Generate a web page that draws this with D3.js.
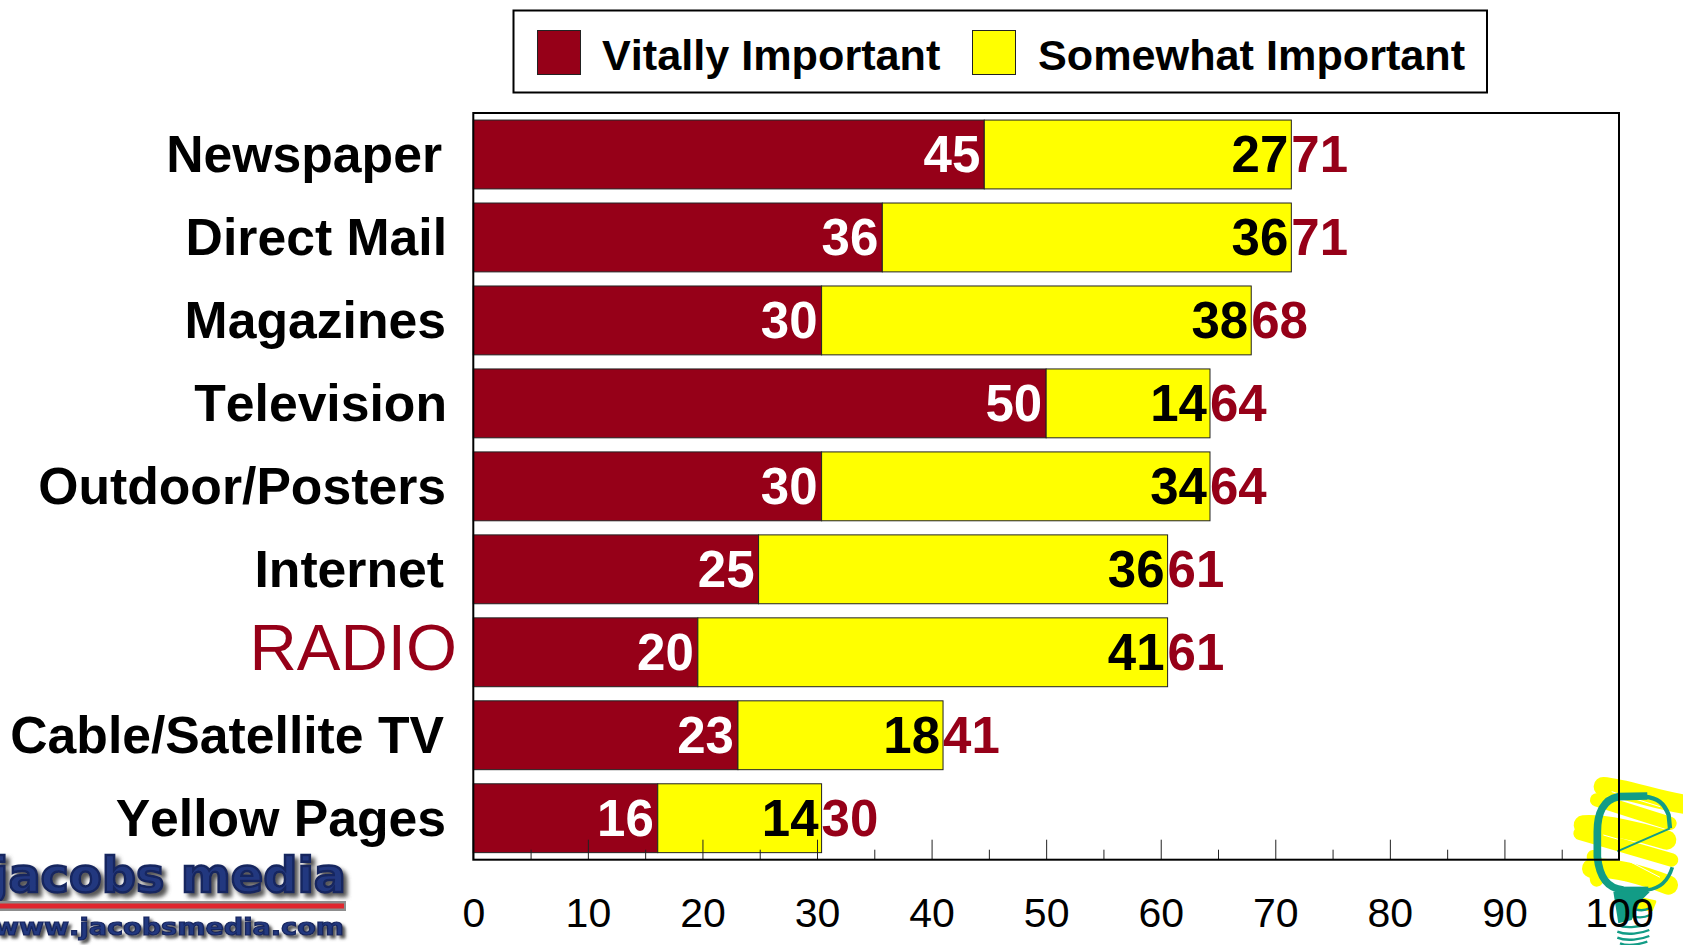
<!DOCTYPE html>
<html>
<head>
<meta charset="utf-8">
<script src="https://cdn.jsdelivr.net/npm/d3@7"></script>
<style>
html,body{margin:0;padding:0;background:#fff;overflow:hidden}
svg{display:block}
text{font-family:"Liberation Sans",Arial,sans-serif;font-kerning:none}
</style>
</head>
<body>
<svg id="c" width="1683" height="945"></svg>
<script>
const categories = ["Newspaper","Direct Mail","Magazines","Television","Outdoor/Posters","Internet","RADIO","Cable/Satellite TV","Yellow Pages"];
const vitalValues = [44.6,35.7,30.4,50,30.4,24.9,19.6,23.1,16.1];
const somewhatValues = [26.8,35.7,37.5,14.3,33.9,35.7,41,17.9,14.3];
const vitalLabels = [45,36,30,50,30,25,20,23,16];
const somewhatLabels = [27,36,38,14,34,36,41,18,14];
const totalLabels = [71,71,68,64,64,61,61,41,30];
const labelNudges = [-5,0,-1,0,-1,-3,10,-3,-1];
const majorTicks = [0,10,20,30,40,50,60,70,80,90,100];
const minorTicks = [5,15,25,35,45,55,65,75,85,95];
const seriesNames = ["Vitally Important","Somewhat Important"];
const MAROON = "#960018", YELLOW = "#ffff00", TEAL = "#129c86";

const svg = d3.select("#c");
const defs = svg.append("defs");
const logoFilter = (id,dx,blur)=>{
  const f = defs.append("filter").attr("id",id).attr("x","-5%").attr("y","-20%").attr("width","110%").attr("height","150%");
  f.append("feGaussianBlur").attr("in","SourceGraphic").attr("stdDeviation",0.7).attr("result","s");
  f.append("feDropShadow").attr("in","s").attr("dx",dx).attr("dy",dx).attr("stdDeviation",blur).attr("flood-color","#555");
};
logoFilter("logoMain",4,2);
logoFilter("logoUrl",3,1.6);
defs.append("filter").attr("id","soft").append("feGaussianBlur").attr("stdDeviation",0.7);

const plotL = 473.3, plotR = 1619, plotT = 113, plotB = 859.7;
const x = d3.scaleLinear().domain([0,100]).range([plotL,plotR]);
const y = d3.scaleBand().domain(categories).range([plotT,plotB]).paddingInner(0.17).paddingOuter(0.085);

// Light-bulb logo (decoration)
const bulb = svg.append("g").attr("transform","translate(1560,760) scale(0.3333)");
const yellowStrokes = [
  "M130,80 C200,85 300,125 390,135",
  "M70,195 C130,190 240,215 320,240",
  "M95,325 C170,320 260,350 325,375"
];
bulb.selectAll("path.y").data(yellowStrokes).join("path").attr("class","y").attr("d",d=>d)
  .attr("fill","none").attr("stroke",YELLOW).attr("stroke-width",58).attr("stroke-linecap","round");
bulb.append("path").attr("d","M110,120 L330,190 M60,220 L335,300 M100,290 L110,360").attr("fill","none").attr("stroke",YELLOW).attr("stroke-width",40).attr("stroke-linecap","round");
bulb.append("path").attr("d","M195,405 L285,425 L275,450 L200,445 Z").attr("fill",YELLOW).attr("stroke",YELLOW).attr("stroke-width",8).attr("stroke-linejoin","round");
bulb.append("path").attr("d","M155,95 L300,140 M130,225 L175,238 M200,300 L300,352 M190,365 L235,385")
  .attr("fill","none").attr("stroke","#fff").attr("stroke-width",3);
const outlineSegs = [
  ["M172,274 L330,205",6],
  ["M330,205 L326,165 C312,128 292,114 255,110",13],
  ["M262,108 L175,110 C130,118 112,160 112,215 L112,290 C118,350 140,385 190,390",23],
  ["M185,390 L265,390",20],
  ["M262,390 C300,386 324,365 337,322",11]
];
bulb.selectAll("path.o").data(outlineSegs).join("path").attr("class","o").attr("d",d=>d[0])
  .attr("fill","none").attr("stroke",TEAL).attr("stroke-width",d=>d[1]);
bulb.append("path").attr("d","M160,395 L270,395 L240,425 L215,480 L175,490 Z").attr("fill",TEAL);
bulb.append("path").attr("d","M205,440 C225,450 250,455 268,445 M195,460 C225,475 250,475 270,465 M172,495 C200,507 245,500 268,490 M172,515 C200,527 245,520 268,510 M172,533 C200,545 245,538 268,528 M180,550 C205,560 240,552 262,545")
  .attr("fill","none").attr("stroke",TEAL).attr("stroke-width",7);

// Jacobs Media logo (decoration)
const logo = svg.append("g");
logo.append("text").attr("x",-8).attr("y",892).attr("textLength",354).attr("lengthAdjust","spacingAndGlyphs")
  .style("font-family","'DejaVu Sans'").style("font-weight",700).style("font-size","48px")
  .attr("fill","#24387f").attr("stroke","#16265f").attr("stroke-width",2.5).attr("filter","url(#logoMain)").text("jacobs media");
logo.append("rect").attr("x",0).attr("y",901).attr("width",346).attr("height",10).attr("fill","#8d8d8d").attr("filter","url(#soft)");
logo.append("rect").attr("x",0).attr("y",903.5).attr("width",344).attr("height",5).attr("fill","#e0282e").attr("filter","url(#soft)");
logo.append("text").attr("x",-6).attr("y",935).attr("textLength",350).attr("lengthAdjust","spacingAndGlyphs")
  .style("font-family","'DejaVu Sans'").style("font-weight",700).style("font-size","23px")
  .attr("fill","#24387f").attr("stroke","#16265f").attr("stroke-width",1.2).attr("filter","url(#logoUrl)").text("www.jacobsmedia.com");

// Legend
svg.append("rect").attr("x",513.5).attr("y",10.5).attr("width",973.5).attr("height",82)
  .attr("fill","#fff").attr("stroke","#000").attr("stroke-width",2);
const legendX = [537.5,972.5], legendTextX = [602,1038], legendColors = [MAROON,YELLOW];
seriesNames.forEach((n,i)=>{
  svg.append("rect").attr("x",legendX[i]).attr("y",30.5).attr("width",43).attr("height",44)
    .attr("fill",legendColors[i]).attr("stroke","#222").attr("stroke-width",1);
  svg.append("text").attr("x",legendTextX[i]).attr("y",69.5).attr("fill","#000")
    .style("font-size","43.2px").style("font-weight",700).text(n);
});

// Bars
const rows = categories.map((c,i)=>({c,v:vitalValues[i],s:somewhatValues[i],vl:vitalLabels[i],sl:somewhatLabels[i],tl:totalLabels[i],n:labelNudges[i]}));
svg.selectAll("rect.vital").data(rows).join("rect").attr("class","vital")
  .attr("x",x(0)).attr("y",d=>y(d.c)).attr("width",d=>x(d.v)-x(0)).attr("height",y.bandwidth())
  .attr("fill",MAROON).attr("stroke","#222").attr("stroke-width",1);
svg.selectAll("rect.somewhat").data(rows).join("rect").attr("class","somewhat")
  .attr("x",d=>x(d.v)).attr("y",d=>y(d.c)).attr("width",d=>x(d.v+d.s)-x(d.v)).attr("height",y.bandwidth())
  .attr("fill",YELLOW).attr("stroke","#222").attr("stroke-width",1);

// Axis
const minorAxis = d3.axisBottom(x).tickValues(minorTicks).tickSize(-10).tickFormat("");
const majorAxis = d3.axisBottom(x).tickValues(majorTicks).tickSize(-20).tickPadding(38);
const gMinor = svg.append("g").attr("transform",`translate(0,${plotB})`).call(minorAxis);
gMinor.select(".domain").remove();
const gMajor = svg.append("g").attr("transform",`translate(0,${plotB})`).call(majorAxis);
gMajor.select(".domain").remove();
svg.selectAll(".tick line").attr("stroke","#222").attr("stroke-width",1);
gMajor.selectAll("text").attr("fill","#000").style("font-size","41px").style("font-family","'Liberation Sans'");

// Plot frame
svg.append("rect").attr("x",plotL).attr("y",plotT).attr("width",plotR-plotL).attr("height",plotB-plotT)
  .attr("fill","none").attr("stroke","#000").attr("stroke-width",2);

// Value labels
const cy = d=>y(d.c)+y.bandwidth()/2+17.8;
svg.selectAll("text.vl").data(rows).join("text").attr("class","vl")
  .attr("x",d=>x(d.v)-4).attr("y",cy).attr("text-anchor","end").attr("fill","#fff")
  .style("font-size","51px").style("font-weight",700).text(d=>d.vl);
svg.selectAll("text.sl").data(rows).join("text").attr("class","sl")
  .attr("x",d=>x(d.v+d.s)-3).attr("y",cy).attr("text-anchor","end").attr("fill","#000")
  .style("font-size","51px").style("font-weight",700).text(d=>d.sl);
svg.selectAll("text.tl").data(rows).join("text").attr("class","tl")
  .attr("x",d=>x(d.v+d.s)).attr("y",cy).attr("fill",MAROON)
  .style("font-size","51px").style("font-weight",700).text(d=>d.tl);

// Category labels
svg.selectAll("text.cat").data(rows).join("text").attr("class","cat")
  .attr("x",d=>447+d.n).attr("y",cy).attr("text-anchor","end")
  .attr("fill",d=>d.c==="RADIO"?MAROON:"#000")
  .style("font-size",d=>d.c==="RADIO"?"65.5px":"51.7px").style("font-weight",d=>d.c==="RADIO"?400:700)
  .text(d=>d.c);
</script>
</body>
</html>
